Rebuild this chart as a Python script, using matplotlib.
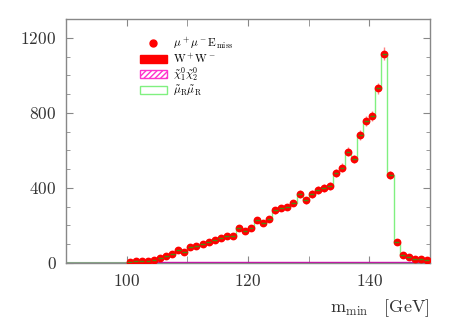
import numpy as np
import matplotlib
matplotlib.use('Agg')
import matplotlib.pyplot as plt
from matplotlib.patches import Patch
from matplotlib.lines import Line2D
from matplotlib.ticker import MultipleLocator

plt.rcParams['font.family'] = 'serif'
plt.rcParams['font.serif'] = ['cmr10']
plt.rcParams['mathtext.fontset'] = 'cm'
plt.rcParams['axes.formatter.use_mathtext'] = True

# bin edges 90..150 GeV, 1 GeV bins
edges = np.arange(90, 151, 1)
centers = np.arange(100.5, 150, 1.0)

# data points (mu+ mu- E_miss), one per bin 100-150
data = [7, 8, 10, 12, 16, 27, 39, 50, 67, 58,
        87, 90, 99, 110, 120, 135, 145, 142, 189, 169,
        188, 228, 214, 235, 280, 294, 297, 320, 368, 335,
        368, 390, 400, 411, 480, 508, 593, 554, 682, 756,
        784, 931, 1116, 469, 113, 41, 34, 20, 20, 18]

# background contributions (tiny), bins 90-150
ww = [0]*10 + [0, 0, 0, 1, 1, 1, 1, 1, 1, 1,
               1, 1, 1, 1, 1, 1, 1, 1, 1, 1,
               1, 1, 1, 1, 1, 1, 1, 1, 1, 1,
               1, 1, 1, 1, 1, 1, 1, 1, 1, 1,
               1, 1, 1, 1, 1, 1, 1, 1, 1, 1]
chi = [0]*10 + [0, 0, 1, 1, 1, 2, 2, 2, 2, 3,
                3, 4, 5, 5, 4, 4, 5, 4, 3, 3,
                3, 3, 4, 3, 3, 3, 4, 4, 3, 3,
                3, 3, 3, 3, 3, 3, 3, 3, 3, 3,
                3, 3, 3, 3, 3, 3, 3, 3, 3, 3]
# total prediction including smuon pairs
total = [0]*10 + data

ww = np.array(ww)
chi = np.array(chi)
total = np.array(total)
data = np.array(data)
err = np.sqrt(data)

fig = plt.figure(figsize=(4.53, 3.18), dpi=100)
ax = fig.add_axes([0.146, 0.173, 0.803, 0.767])

# stacked histograms
ax.stairs(ww, edges, fill=True, color='red', zorder=1)
ax.stairs(ww + chi, edges, baseline=ww, fill=True, facecolor='white',
          edgecolor='#ff33cc', hatch='//////', linewidth=0.0, zorder=1)
ax.stairs(ww + chi, edges, color='#cc00aa', linewidth=1.0, zorder=2)
ax.stairs(total, edges, color='#80f080', linewidth=1.0, zorder=2)
ax.plot([90, 100], [0, 0], color='#88aa88', linewidth=1.5, zorder=2)

# data points
ax.errorbar(centers, data, yerr=err, fmt='none', ecolor='#ff8080',
            elinewidth=1.0, zorder=3)
ax.plot(centers, data, 'o', color='red', markersize=4.6, zorder=4)
ax.errorbar(centers, data, xerr=0.4, fmt='none', ecolor='#4a8a10',
            elinewidth=1.0, zorder=5)

ax.set_xlim(90, 150)
ax.set_ylim(0, 1300)
ax.set_xticks([100, 120, 140])
ax.xaxis.set_minor_locator(matplotlib.ticker.FixedLocator([110, 130]))
ax.set_yticks([0, 400, 800, 1200])
ax.yaxis.set_minor_locator(MultipleLocator(100))
ax.tick_params(which='both', direction='in', top=True, right=True,
               color='#888888', labelsize=12.5, labelcolor='#333333')
ax.tick_params(which='major', length=5, pad=7)
ax.tick_params(axis='x', which='minor', length=5)
ax.tick_params(axis='y', which='minor', length=3)
for s in ax.spines.values():
    s.set_color('#888888')
    s.set_linewidth(1.0)

ax.set_xlabel(r'$\mathrm{m}_{\rm min}\quad[\mathrm{GeV}]$', loc='right',
              fontsize=13, color='#333333', labelpad=6)

handles = [Line2D([], [], marker='o', color='red', linestyle='none', markersize=5),
           Patch(facecolor='red', edgecolor='red'),
           Patch(facecolor='white', edgecolor='#ff33cc', hatch='//////'),
           Patch(facecolor='white', edgecolor='#80f080')]
labels = [r'$\mu^+\mu^-\mathrm{E}_{\rm miss}$',
          r'$\mathrm{W}^+\mathrm{W}^-$',
          r'$\tilde{\chi}^0_1\tilde{\chi}^0_2$',
          r'$\tilde{\mu}_{\rm R}\tilde{\mu}_{\rm R}$']
ax.legend(handles, labels, loc='upper left', bbox_to_anchor=(0.18, 0.965),
          frameon=False, fontsize=8.2, handlelength=2.4, handleheight=0.7,
          labelspacing=0.0, handletextpad=0.5, borderpad=0.2)

fig.savefig('out.png', dpi=100)
